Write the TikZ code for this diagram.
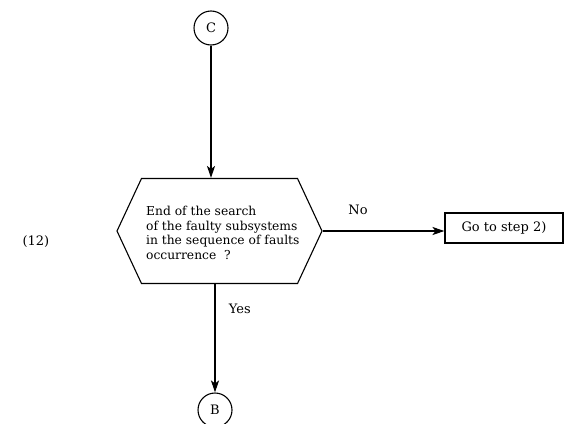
\documentclass[tikz,border=0pt]{standalone}
\usepackage{fontspec}
\setmainfont{DejaVu Serif}
\usetikzlibrary{shapes.symbols,arrows.meta,positioning}

\begin{document}
\begin{tikzpicture}[x=1pt, y=-1pt, every node/.style={font=\fontsize{13}{14.5}\selectfont}]
        \tikzstyle{connector} = [draw, circle, line width=1.1pt, minimum size=34pt, inner sep=0pt]
        \tikzstyle{decision} = [draw, signal, signal to=west and east, signal pointer angle=130,
            line width=1.1pt, minimum width=205pt, minimum height=105pt]
        \tikzstyle{block} = [draw, rectangle, line width=1.1pt, minimum width=118pt, minimum height=30pt]
        \tikzstyle{arrow} = [-{Stealth[length=12pt,width=8pt,inset=3pt]}, line width=1.1pt]
        \useasboundingbox (0,0) rectangle (564,423);

        \node (c) [connector] at (211,28) {C};
        \node (test) [decision] at (219.5,231) {};
        \node (testtext) [align=left, anchor=east, font=\fontsize{12.3}{14.5}\selectfont] at (303,233) {End of the search\\ of the faulty subsystems\\ in the sequence of faults\\ occurrence\ \ ?};
        \node (goto) [block] at (504,228) {Go to step 2)};
        \node (b) [connector] at (215,410) {B};
        \node (step) [anchor=west] at (19,242) {(12)};

        \draw [arrow] (c) -- (c |- test.north);
        \draw [arrow] (test.east) -- node[pos=0, anchor=south west, xshift=22pt, yshift=12pt] {No} (test.east -| goto.west);
        \draw [arrow] (test.south -| b) -- node[pos=0.23, anchor=west, xshift=10pt] {Yes} (b);
    \end{tikzpicture}
\end{document}
